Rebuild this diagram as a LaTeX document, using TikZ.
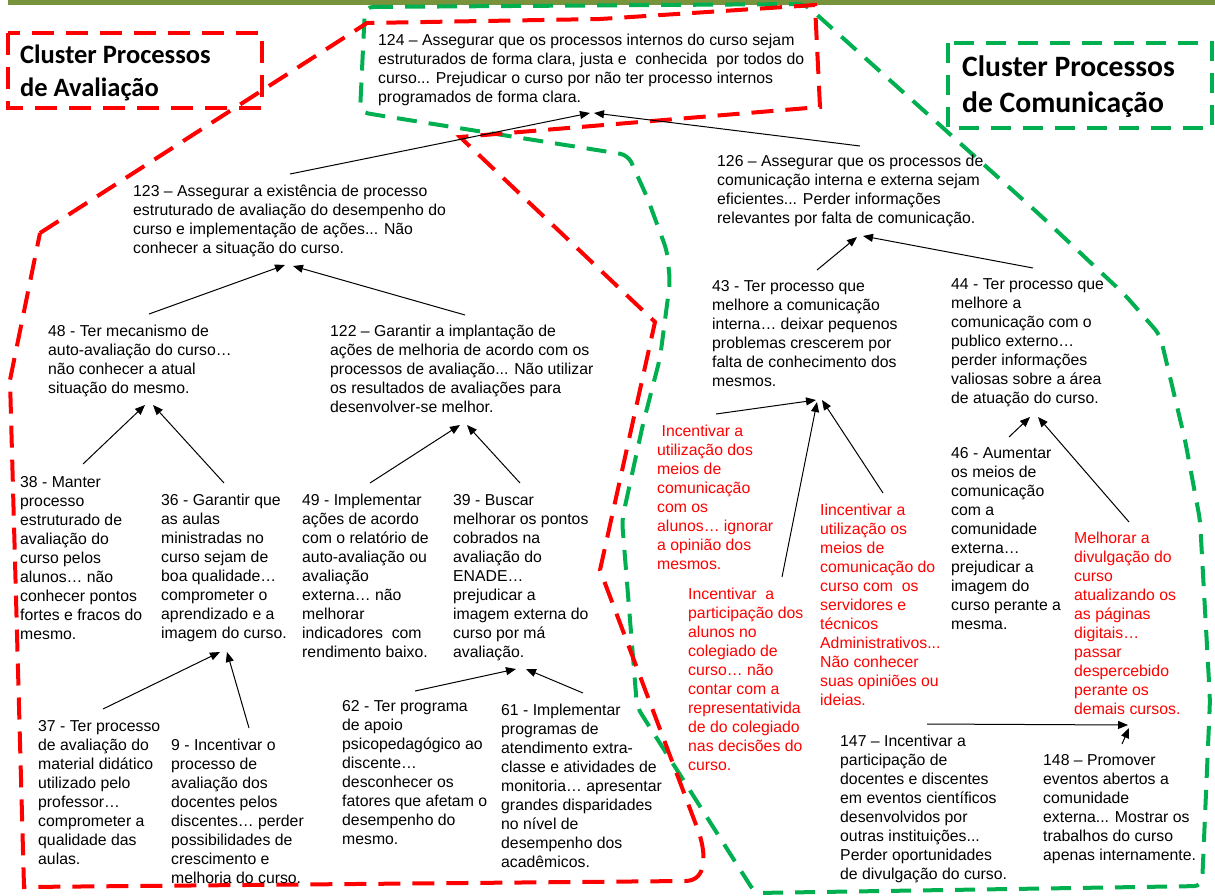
\documentclass[tikz,border=0pt]{standalone}
\usepackage{fontspec}
\setmainfont{Liberation Sans}
\newfontfamily\titlefont{Carlito}
\usetikzlibrary{arrows.meta,calc}
\definecolor{cred}{RGB}{255,0,0}
\definecolor{cgreen}{RGB}{0,176,80}
\definecolor{barolive}{RGB}{119,147,60}

\begin{document}
\begin{tikzpicture}[x=1pt,y=-1pt,
  txt/.style={anchor=north west,inner sep=0pt,align=left,
    font=\fontsize{15.8}{19}\selectfont},
  rtxt/.style={txt,text=cred},
  redtitle/.style={anchor=north west,inner sep=0pt,align=left,
    font=\titlefont\bfseries\fontsize{26.5}{33}\selectfont},
  greentitle/.style={anchor=north west,inner sep=0pt,align=left,
    font=\titlefont\bfseries\fontsize{29.6}{36}\selectfont},
  arr/.style={-{Triangle[length=10pt,width=8pt]},line width=1pt},
  redline/.style={draw=cred,line width=4pt,dash pattern=on 22pt off 12pt},
  greenline/.style={draw=cgreen,line width=4pt,dash pattern=on 20pt off 12pt},
]
\path[use as bounding box,fill=white] (0,0) rectangle (1215,895);

% header bar
\fill[barolive] (8,0) rectangle (1215,5);

% cluster outlines
\draw[greenline,rounded corners=8pt] (365,7) -- (805,4) -- (1040,215) -- (1125,295)
  -- (1160,335) -- (1185,440) -- (1200,520) -- (1210,700) -- (1202,886) -- (755,893)
  -- (637,707) -- (622,520) -- (643,424) -- (660,358) -- (670,282) -- (667,251)
  -- (647,197) -- (628,155) -- (377,115) -- (360,112) -- cycle;
\draw[redline] (40,233) -- (367,23) -- (600,19) -- (815,5) -- (820,107) -- (460,137)
  -- (655,322) -- (600,570) -- (698,830) .. controls (706,852) and (708,881) .. (685,881)
  -- (24,887) -- (10,380) -- cycle;

% cluster titles
\draw[redline] (8,33) rectangle (262,108);
\node[redtitle] (ttlA) at (20,39.9) {\strut Cluster Processos\\de Avaliação};
\draw[greenline] (948,43) rectangle (1212,128);
\node[greentitle] (ttlC) at (962,50.8) {\strut Cluster Processos\\de Comunicação};

% concepts
\node[txt] (t124) at (378,32.4) {\strut 124 – Assegurar que os processos internos do curso sejam\\estruturados de forma clara, justa e~ conhecida~ por todos do\\curso... Prejudicar o curso por não ter processo internos\\programados de forma clara.};
\node[txt] (t123) at (133,182.7) {\strut 123 – Assegurar a existência de processo\\estruturado de avaliação do desempenho do\\curso e implementação de ações... Não\\conhecer a situação do curso.};
\node[txt] (t126) at (717,153.4) {\strut 126 – Assegurar que os processos de\\comunicação interna e externa sejam\\eficientes... Perder informações\\relevantes por falta de comunicação.};
\node[txt] (t48) at (48,323.4) {\strut 48 - Ter mecanismo de\\auto-avaliação do curso…\\não conhecer a atual\\situação do mesmo.};
\node[txt] (t122) at (330,323.4) {\strut 122 – Garantir a implantação de\\ações de melhoria de acordo com os\\processos de avaliação... Não utilizar\\os resultados de avaliações para\\desenvolver-se melhor.};
\node[txt] (t43) at (712,278.4) {\strut 43 - Ter processo que\\melhore a comunicação\\interna… deixar pequenos\\problemas crescerem por\\falta de conhecimento dos\\mesmos.};
\node[txt] (t44) at (951,276) {\strut 44 - Ter processo que\\melhore a\\comunicação com o\\publico externo…\\perder informações\\valiosas sobre a área\\de atuação do curso.};
\node[txt] (t38) at (20,474) {\strut 38 - Manter\\processo\\estruturado de\\avaliação do\\curso pelos\\alunos… não\\conhecer pontos\\fortes e fracos do\\mesmo.};
\node[txt] (t36) at (161,492.4) {\strut 36 - Garantir que\\as aulas\\ministradas no\\curso sejam de\\boa qualidade…\\comprometer o\\aprendizado e a\\imagem do curso.};
\node[txt] (t49) at (302,492.4) {\strut 49 - Implementar\\ações de acordo\\com o relatório de\\auto-avaliação ou\\avaliação\\externa… não\\melhorar\\indicadores~ com\\rendimento baixo.};
\node[txt] (t39) at (453,492.4) {\strut 39 - Buscar\\melhorar os pontos\\cobrados na\\avaliação do\\ENADE…\\prejudicar a\\imagem externa do\\curso por má\\avaliação.};
\node[rtxt] (r1) at (657,423.4) {\strut\hspace{4.4pt}Incentivar a\\utilização dos\\meios de\\comunicação\\com os\\alunos… ignorar\\a opinião dos\\mesmos.};
\node[rtxt] (r2) at (688,585.7) {\strut Incentivar~ a\\participação dos\\alunos no\\colegiado de\\curso… não\\contar com a\\representativida\\de do colegiado\\nas decisões do\\curso.};
\node[rtxt] (r3) at (820,501.7) {\strut Iincentivar a\\utilização os\\meios de\\comunicação do\\curso com~ os\\servidores e\\técnicos\\Administrativos...\\Não conhecer\\suas opiniões ou\\ideias.};
\node[txt] (t46) at (951,445) {\strut 46 - Aumentar\\os meios de\\comunicação\\com a\\comunidade\\externa…\\prejudicar a\\imagem do\\curso perante a\\mesma.};
\node[rtxt] (r4) at (1074,530) {\strut Melhorar a\\divulgação do\\curso\\atualizando os\\as páginas\\digitais…\\passar\\despercebido\\perante os\\demais cursos.};
\node[txt] (t147) at (840,733.4) {\strut 147 – Incentivar a\\participação de\\docentes e discentes\\em eventos científicos\\desenvolvidos por\\outras instituições...\\Perder oportunidades\\de divulgação do curso.};
\node[txt] (t148) at (1043,751.7) {\strut 148 – Promover\\eventos abertos a\\comunidade\\externa... Mostrar os\\trabalhos do curso\\apenas internamente.};
\node[txt] (t37) at (38,718.4) {\strut 37 - Ter processo\\de avaliação do\\material didático\\utilizado pelo\\professor…\\comprometer a\\qualidade das\\aulas.};
\node[txt] (t9) at (171,737.4) {\strut 9 - Incentivar o\\processo de\\avaliação dos\\docentes pelos\\discentes… perder\\possibilidades de\\crescimento e\\melhoria do curso.};
\node[txt] (t62) at (342,698.4) {\strut 62 - Ter programa\\de apoio\\psicopedagógico ao\\discente…\\desconhecer os\\fatores que afetam o\\desempenho do\\mesmo.};
\node[txt] (t61) at (501,701.7) {\strut 61 - Implementar\\programas de\\atendimento extra-\\classe e atividades de\\monitoria… apresentar\\grandes disparidades\\no nível de\\desempenho dos\\acadêmicos.};

% influence arrows
\draw[arr] ($(t123.north west)+(157,-8.7)$) -- ($(t124.north west)+(212,80.6)$);
\draw[arr] ($(t126.north west)+(143,-7.4)$) -- ($(t124.north west)+(216,80.6)$);
\draw[arr] ($(t48.north west)+(101,-9.4)$) -- ($(t123.north west)+(152,82.3)$);
\draw[arr] ($(t122.north west)+(135,-8.4)$) -- ($(t123.north west)+(160,83.3)$);
\draw[arr] ($(t38.north west)+(63,-10)$) -- ($(t48.north west)+(97,81.6)$);
\draw[arr] ($(t36.north west)+(63,-9.4)$) -- ($(t48.north west)+(105,81.6)$);
\draw[arr] ($(t49.north west)+(68,-9.4)$) -- ($(t122.north west)+(130,101.6)$);
\draw[arr] ($(t39.north west)+(67,-9.4)$) -- ($(t122.north west)+(137,101.6)$);
\draw[arr] ($(t37.north west)+(65,-9.4)$) -- ($(t36.north west)+(59,159.6)$);
\draw[arr] ($(t9.north west)+(78,-9.4)$) -- ($(t36.north west)+(66,159.6)$);
\draw[arr] ($(t62.north west)+(73,-7.4)$) -- ($(t39.north west)+(63,176.6)$);
\draw[arr] ($(t61.north west)+(82,-8.7)$) -- ($(t39.north west)+(73,176.6)$);
\draw[arr] ($(t43.north west)+(105,-8.4)$) -- ($(t126.north west)+(140,83.6)$);
\draw[arr] ($(t44.north west)+(82,-8)$) -- ($(t126.north west)+(146,82.6)$);
\draw[arr] ($(r1.north west)+(59,-9.4)$) -- ($(t43.north west)+(104,121.6)$);
\draw[arr] ($(r2.north west)+(94,-8.7)$) -- ($(t43.north west)+(105,123.6)$);
\draw[arr] ($(r3.north west)+(63,-8.7)$) -- ($(t43.north west)+(110,121.6)$);
\draw[arr] ($(t46.north west)+(58,-8)$) -- ($(t44.north west)+(79,141)$);
\draw[arr] ($(r4.north west)+(55,-8)$) -- ($(t44.north west)+(87,141)$);
\draw[arr] ($(t147.north west)+(87,-9.4)$) -- ($(r4.north west)+(54,195)$);
\draw[arr] ($(t148.north west)+(79,-7.7)$) -- ($(r4.north west)+(55,198)$);
\end{tikzpicture}
\end{document}
